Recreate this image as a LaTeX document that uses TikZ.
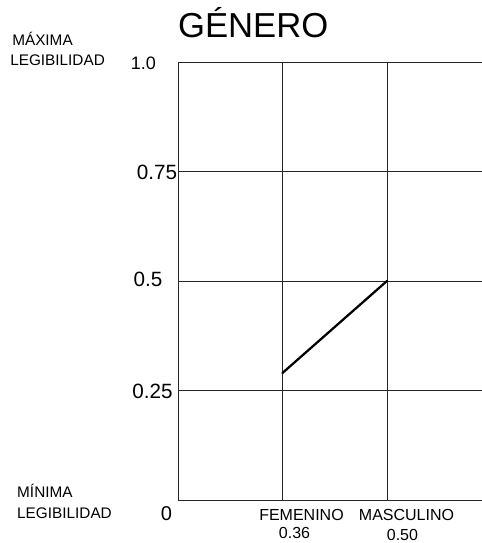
\documentclass[tikz,border=0pt]{standalone}
\usepackage{fontspec}
\setmainfont{Liberation Sans}
\usetikzlibrary{positioning}
\tikzset{
  gridline/.style={draw=black!85,line width=0.7pt},
  dataline/.style={draw=black,line width=1.7pt,line cap=round},
  sidelabel/.style={anchor=base west,inner sep=0pt,font=\fontsize{11.5}{13}\selectfont},
  ticklabel/.style={anchor=base,inner sep=0pt,font=\fontsize{15.5}{18}\selectfont},
  catlabel/.style={anchor=base,inner sep=0pt,font=\fontsize{12}{14}\selectfont}
}
\begin{document}
\begin{tikzpicture}[x=78.375pt,y=328.5pt]
  \useasboundingbox (-1.7033,-0.0982) rectangle (2.909,1.1416);
  \foreach \v in {0,0.25,0.5,0.75,1}
    \draw[gridline] (0,\v) -- (2.909,\v);
  \foreach \c in {0,1,2}
    \draw[gridline] (\c,0) -- (\c,1);
  \coordinate (fem) at (1,0.29);
  \coordinate (masc) at (2,0.5);
  \draw[dataline] (fem) -- (masc);
  \node (title) [anchor=base,inner sep=0pt,font=\fontsize{26}{30}\selectfont] at (0.72,1.0564) {GÉNERO};
  \node (maxa) [sidelabel] at (-1.5885,1.0388) {MÁXIMA};
  \node (maxb) [sidelabel] at (-1.6077,0.9925) {LEGIBILIDAD};
  \node (mina) [sidelabel] at (-1.541,0.0061) {MÍNIMA};
  \node (minb) [sidelabel] at (-1.541,-0.0426) {LEGIBILIDAD};
  \node (t100) [ticklabel,font=\fontsize{13.5}{16}\selectfont] at (-0.33,0.9833) {1.0};
  \node (t075) [ticklabel] at (-0.201,0.7322) {0.75};
  \node (t050) [ticklabel] at (-0.287,0.487) {0.5};
  \node (t025) [ticklabel] at (-0.244,0.2321) {0.25};
  \node (t000) [ticklabel,font=\fontsize{15}{18}\selectfont] at (-0.11,-0.0457) {0};
  \node (femlab) [catlabel] at (1.182,-0.0457) {FEMENINO};
  \node (femval) [catlabel] at (1.115,-0.0868) {0.36};
  \node (masclab) [catlabel] at (2.187,-0.0457) {MASCULINO};
  \node (mascval) [catlabel] at (2.148,-0.0936) {0.50};
\end{tikzpicture}
\end{document}
